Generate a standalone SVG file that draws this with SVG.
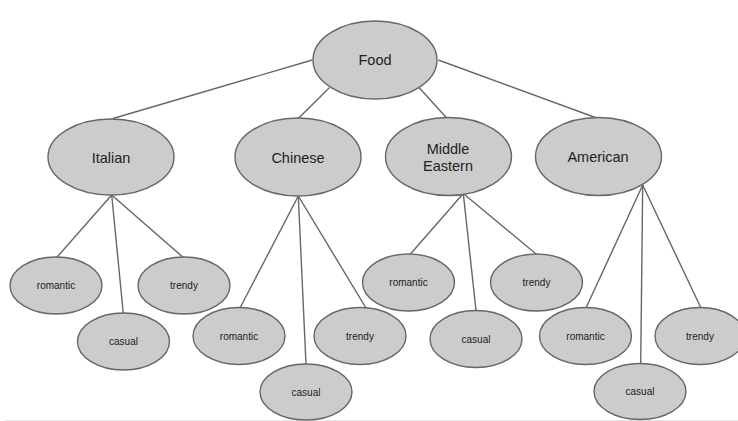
<svg xmlns="http://www.w3.org/2000/svg" width="738" height="421" viewBox="0 0 738 421">
<style>
.n ellipse{fill:#cccccc;stroke:#666666;stroke-width:1.4}
.n text{font-family:"Liberation Sans",Arial,sans-serif;fill:#222222;text-anchor:middle}
.big text{font-size:14.5px}
.sm text{font-size:10px}
#edges line{stroke:#666666;stroke-width:1.4}
</style>
<rect width="738" height="421" fill="#ffffff"/>
<line x1="5" y1="420.5" x2="738" y2="420.5" stroke="#e6e6e6" stroke-width="1"/>
<g id="edges">
<line x1="312.3" y1="60" x2="113" y2="118.5"/>
<line x1="329.3" y1="87.7" x2="298.3" y2="118.5"/>
<line x1="418.3" y1="86.7" x2="446.7" y2="118"/>
<line x1="438.3" y1="60" x2="596.7" y2="118"/>
<line x1="111.7" y1="195" x2="56.7" y2="257.5"/>
<line x1="111.7" y1="195" x2="123.3" y2="313.5"/>
<line x1="111.7" y1="195" x2="183.3" y2="257.5"/>
<line x1="298.3" y1="196" x2="240" y2="308"/>
<line x1="298.3" y1="196" x2="306" y2="364.5"/>
<line x1="298.3" y1="196" x2="366" y2="308"/>
<line x1="463.3" y1="193.5" x2="410" y2="254.5"/>
<line x1="463.3" y1="193.5" x2="476" y2="310.5"/>
<line x1="463.3" y1="193.5" x2="536.7" y2="254.5"/>
<line x1="642.7" y1="185" x2="586" y2="308"/>
<line x1="642.7" y1="185" x2="640.7" y2="363.5"/>
<line x1="642.7" y1="185" x2="701" y2="308"/>
</g>
<g id="food" class="n big"><ellipse cx="375" cy="60" rx="62" ry="39"/><text x="375" y="65.3">Food</text></g>
<g id="italian" class="n big"><ellipse cx="111" cy="157" rx="63" ry="38"/><text x="111" y="162.5">Italian</text></g>
<g id="chinese" class="n big"><ellipse cx="298" cy="157" rx="63" ry="39"/><text x="298" y="162.5">Chinese</text></g>
<g id="middle-eastern" class="n big"><ellipse cx="448.5" cy="156.5" rx="63" ry="39"/><text x="448" y="154">Middle</text><text x="448" y="171">Eastern</text></g>
<g id="american" class="n big"><ellipse cx="598.5" cy="156.5" rx="63" ry="39"/><text x="598" y="162.3">American</text></g>
<g id="italian-romantic" class="n sm"><ellipse cx="56" cy="285.5" rx="46" ry="28.5"/><text x="56" y="289.3">romantic</text></g>
<g id="italian-casual" class="n sm"><ellipse cx="123.5" cy="341.5" rx="46" ry="28.5"/><text x="123.5" y="345.3">casual</text></g>
<g id="italian-trendy" class="n sm"><ellipse cx="184" cy="285.5" rx="46" ry="28.5"/><text x="184" y="289.3">trendy</text></g>
<g id="chinese-romantic" class="n sm"><ellipse cx="239" cy="336" rx="46" ry="28.5"/><text x="239" y="339.8">romantic</text></g>
<g id="chinese-casual" class="n sm"><ellipse cx="306" cy="392" rx="46" ry="28"/><text x="306" y="395.8">casual</text></g>
<g id="chinese-trendy" class="n sm"><ellipse cx="360" cy="336" rx="46" ry="28.5"/><text x="360" y="339.8">trendy</text></g>
<g id="me-romantic" class="n sm"><ellipse cx="408.5" cy="282.5" rx="46" ry="28.5"/><text x="408.5" y="286.3">romantic</text></g>
<g id="me-casual" class="n sm"><ellipse cx="476" cy="339" rx="46" ry="28.5"/><text x="476" y="342.8">casual</text></g>
<g id="me-trendy" class="n sm"><ellipse cx="536.5" cy="282.5" rx="46" ry="28.5"/><text x="536.5" y="286.3">trendy</text></g>
<g id="american-romantic" class="n sm"><ellipse cx="585.5" cy="336" rx="46" ry="28.5"/><text x="585.5" y="339.8">romantic</text></g>
<g id="american-casual" class="n sm"><ellipse cx="640" cy="391.5" rx="46" ry="28"/><text x="640" y="395.3">casual</text></g>
<g id="american-trendy" class="n sm"><ellipse cx="700" cy="336" rx="45" ry="28.5"/><text x="700" y="339.8">trendy</text></g>
</svg>
